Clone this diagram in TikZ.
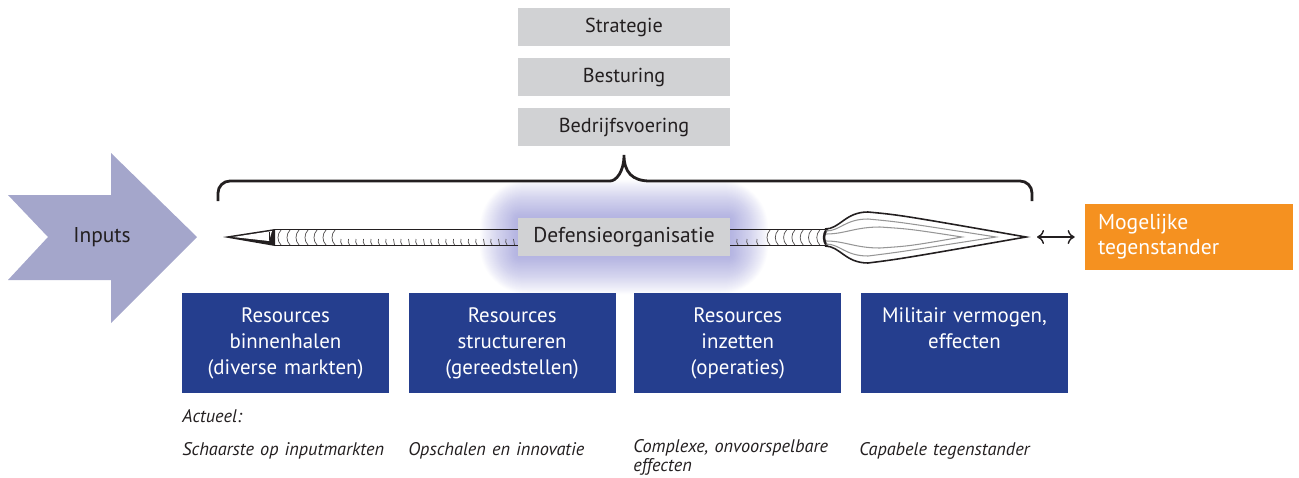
\documentclass[tikz,border=0pt]{standalone}
\usepackage{fontspec}
\setmainfont{PT Sans}
\usetikzlibrary{positioning,arrows.meta}

\definecolor{inkc}{RGB}{35,31,32}
\definecolor{inputc}{RGB}{164,166,203}
\definecolor{greyc}{RGB}{209,210,212}
\definecolor{bluec}{RGB}{37,62,142}
\definecolor{orangec}{RGB}{245,145,32}
\definecolor{glowc}{RGB}{115,115,200}
\definecolor{veinc}{RGB}{150,150,150}

\begin{document}
\begin{tikzpicture}[x=0.02cm,y=-0.02cm,
  greybox/.style={fill=greyc, minimum width=4.24cm, minimum height=0.76cm, inner sep=0,
    text=inkc, font=\fontsize{11.5}{13}\selectfont},
  bluebox/.style={fill=bluec, minimum width=4.14cm, minimum height=2cm, inner sep=0},
  boxtext/.style={text=white, text width=4.14cm, align=center, inner sep=0,
    font=\fontsize{11.9}{15}\selectfont},
  remark/.style={text=inkc, inner sep=0, text width=4.3cm, align=left,
    font=\fontsize{10.4}{11.3}\selectfont\itshape},
  spearline/.style={inkc, line width=0.9pt},
  tickline/.style={inkc!80, line width=0.4pt}]

\useasboundingbox (0,0) rectangle (1299,477);

% Glow behind the organisation
\foreach \g in {1,...,38}
  \fill[glowc, opacity=0.021, rounded corners=\g*0.025cm]
    (518-\g,256+\g) rectangle (730+\g,218-\g);

% Inputs arrow
\fill[inputc] (8,195) -- (111,195) -- (111,153) -- (197,237) -- (111,323)
  -- (111,280) -- (8,280) -- (48,237) -- cycle;
\node[text=inkc, font=\fontsize{12.2}{14}\selectfont] (inputs) at (102,237) {Inputs};

% Brace
\draw[inkc, line width=1.6pt] (218,201) [rounded corners=0.24cm] -- (218,181) -- (598,181)
  [sharp corners] .. controls (616,181) and (624,172) .. (624,155)
  .. controls (624,172) and (632,181) .. (650,181)
  [rounded corners=0.24cm] -- (1032,181) -- (1032,201);

% Spear: left point
\fill[inkc] (223,237) -- (275,229) -- (275,246) -- cycle;
\fill[white] (233,237) -- (272,231) -- (269,241) -- cycle;
\draw[inkc, line width=0.5pt] (269,232) -- (269,240);

% Spear: shaft
\draw[spearline] (275,229.5) -- (825,229.5);
\draw[spearline, line width=0.7pt] (275,245.5) -- (825,245.5);
\foreach \x in {278,287,...,332}
  \draw[tickline] (\x+3,230) .. controls (\x-1,234) and (\x-1,241) .. (\x+3,245);
\foreach \x in {341,348.5,...,514}
  \draw[tickline] (\x,239) .. controls (\x-0.5,242) .. (\x+1,245);
\foreach \x in {737,747,757}
  \draw[tickline] (\x,239) .. controls (\x-0.5,242) .. (\x+1,245);
\foreach \x in {767,775.3,...,818}
  \draw[tickline] (\x+3,230) .. controls (\x-1,234) and (\x-1,241) .. (\x+3,245);

% Spear: head
\draw[spearline, line width=1.4pt] (827,229) .. controls (823,234) and (823,241) .. (827,246);
\draw[spearline] (825,229) .. controls (840,229) and (845,212) .. (868,212)
  .. controls (900,215) .. (1026,237) .. controls (900,259) .. (868,263)
  .. controls (845,263) and (840,246) .. (825,246);
\draw[veinc, line width=0.6pt] (826,231) .. controls (840,231) and (845,219) .. (868,219)
  .. controls (900,222) .. (996,237) .. controls (900,252) .. (868,256)
  .. controls (845,256) and (840,244) .. (826,244);
\draw[veinc, line width=0.6pt] (826,234) .. controls (845,234) and (855,227) .. (880,227)
  .. controls (910,229) .. (962,237) .. controls (910,246) .. (880,248)
  .. controls (855,248) and (845,241) .. (826,241);
\coordinate (tip) at (1026,237);

% Top boxes
\node[greybox] (strategie) at (624,27) {Strategie};
\node[greybox, below=0.23cm of strategie] (besturing) {Besturing};
\node[greybox, below=0.23cm of besturing] (bedrijf) {Bedrijfsvoering};

% Organisation on the spear
\node[greybox, font=\fontsize{12.2}{14}\selectfont] (org) at (624,237) {Defensieorganisatie};

% Opponent
\node[fill=orangec, text=white, text width=3.64cm, inner xsep=0.26cm, inner ysep=0,
  minimum height=1.32cm, align=left, font=\fontsize{12.3}{14.2}\selectfont]
  (opponent) at (1189,237) {Mogelijke\\tegenstander};
\draw[{To[length=4pt,width=8pt]}-{To[length=4pt,width=8pt]}, inkc, line width=0.8pt,
  shorten <=0.22cm, shorten >=0.2cm] (tip) -- (opponent.west);

% Process boxes
\node[bluebox] (binnen) at (285.5,343) {};
\node[bluebox, right=0.38cm of binnen] (structuur) {};
\node[bluebox, right=0.36cm of structuur] (inzet) {};
\node[bluebox, right=0.38cm of inzet] (vermogen) {};
\node[boxtext, anchor=base] (binnentxt) at ([yshift=-0.59cm]binnen.north)
  {Resources\\binnenhalen\\(diverse markten)};
\node[boxtext, anchor=base] (structuurtxt) at ([yshift=-0.59cm]structuur.north)
  {Resources\\structureren\\(gereedstellen)};
\node[boxtext, anchor=base] (inzettxt) at ([yshift=-0.59cm]inzet.north)
  {Resources\\inzetten\\(operaties)};
\node[boxtext, anchor=base] (vermogentxt) at ([yshift=-0.59cm]vermogen.north)
  {Militair vermogen,\\effecten};

% Remarks
\node[remark, anchor=base west] (actueel) at (182,422) {Actueel:};
\node[remark, anchor=base west] (schaarste) at (182,455) {Schaarste op inputmarkten};
\node[remark, anchor=base west] (opschalen) at (408,455) {Opschalen en innovatie};
\node[remark, anchor=base west] (complex) at (633,452) {Complexe, onvoorspelbare\\effecten};
\node[remark, anchor=base west] (capabel) at (859,455) {Capabele tegenstander};

\end{tikzpicture}
\end{document}
